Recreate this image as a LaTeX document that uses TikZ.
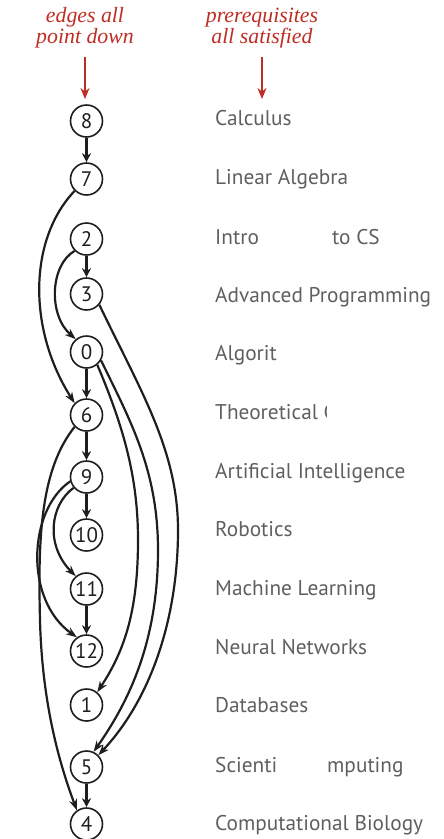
\documentclass[tikz,border=0pt]{standalone}
\usepackage{fontspec}
\setmainfont{Liberation Serif}
\newfontfamily\labfont{PT Sans}
\usetikzlibrary{arrows.meta}
\definecolor{labgray}{RGB}{95,95,95}
\definecolor{redann}{RGB}{190,45,35}
\definecolor{ink}{RGB}{30,30,30}
\begin{document}
\begin{tikzpicture}[x=1pt,y=-1pt,
  vert/.style={circle,draw=ink,line width=1.6pt,minimum size=32pt,inner sep=0pt,text=ink,font=\labfont\fontsize{21}{21}\selectfont},
  lab/.style={anchor=base west,text=labgray,font=\labfont\fontsize{21.3}{22}\selectfont,inner sep=0pt},
  note/.style={align=center,text=redann,font=\itshape\fontsize{21.8}{21}\selectfont,inner sep=0pt},
  ed/.style={draw=ink,line width=2.2pt,-{Stealth[length=11pt,width=8pt]}},
  sed/.style={draw=ink,line width=3.4pt,-{Stealth[length=9pt,width=9pt]}},
  red/.style={draw=redann,line width=2.2pt,-{Stealth[length=11pt,width=9pt]}}]
\useasboundingbox (0,0) rectangle (444,839);
% annotations
\node[note] (n1) at (85,28) {edges all\\point down};
\node[note] (n2) at (262,28) {prerequisites\\all satisfied};
\coordinate (a1) at (85,99);
\coordinate (a2) at (262,99);
\draw[red] (n1.south |- 0,57) -- (a1);
\draw[red] (n2.south |- 0,57) -- (a2);
% vertices
\node[vert] (v8) at (86.5,121) {8};
\node[vert] (v7) at (86.5,179) {7};
\node[vert] (v2) at (86.5,239) {2};
\node[vert] (v3) at (86.5,294) {3};
\node[vert] (v0) at (86.5,352) {0};
\node[vert] (v6) at (86.5,415) {6};
\node[vert] (v9) at (86.5,477) {9};
\node[vert] (v10) at (86.5,535) {10};
\node[vert] (v11) at (86.5,589) {11};
\node[vert] (v12) at (86.5,651) {12};
\node[vert] (v1) at (86.5,705) {1};
\node[vert] (v5) at (86.5,767) {5};
\node[vert] (v4) at (86.5,824) {4};
% labels
\node[lab] (t8) at (215,125.5) {Calculus};
\node[lab] (t7) at (215,184.5) {Linear Algebra};
\node[lab] (t2) at (215,244.5) {Intro};
\node[lab] (t2b) at (332,244.5) {to CS};
\node[lab] (t3) at (215,302.5) {Advanced Programming};
\node[lab] (t0) at (215,360.5) {Algorit};
\begin{scope}
\clip (200,390) rectangle (326,430);
\node[lab] (t6) at (215,419.5) {Theoretical C};
\end{scope}
\node[lab] (t9) at (215,478.5) {Artificial Intelligence};
\node[lab] (t10) at (215,536.5) {Robotics};
\node[lab] (t11) at (215,595.5) {Machine Learning};
\node[lab] (t12) at (215,654.5) {Neural Networks};
\node[lab] (t1) at (215,712.5) {Databases};
\node[lab] (t5) at (215,772.5) {Scienti};
\node[lab] (t5b) at (327,772.5) {mputing};
\node[lab] (t4) at (215,830.5) {Computational Biology};
% straight edges
\draw[sed] (v8) -- (v7);
\draw[sed] (v2) -- (v3);
\draw[sed] (v0) -- (v6);
\draw[sed] (v6) -- (v9);
\draw[sed] (v9) -- (v10);
\draw[sed] (v11) -- (v12);
\draw[sed] (v5) -- (v4);
% curved edges
\draw[ed] (v7.225) .. controls (28,240) and (28,330) .. (v6.135);
\draw[ed] (v2.225) .. controls (50,265) and (48,315) .. (v0.130);
\draw[ed] (v3.-40) .. controls (140,390) and (178,450) .. (178,530) .. controls (178,620) and (150,700) .. (v5.45);
\draw[ed] (v0.-30) .. controls (130,420) and (158,470) .. (158,550) .. controls (158,640) and (130,700) .. (v5.65);
\draw[ed] (v0.-50) .. controls (125,430) and (138,480) .. (138,540) .. controls (138,610) and (125,650) .. (v1.50);
\draw[ed] (v6.225) .. controls (40,470) and (38,540) .. (40,620) .. controls (42,700) and (58,760) .. (v4.125);
\draw[ed] (v9.220) .. controls (50,505) and (45,545) .. (v11.130);
\draw[ed] (v9.195) .. controls (28,510) and (24,600) .. (v12.125);
\end{tikzpicture}
\end{document}
